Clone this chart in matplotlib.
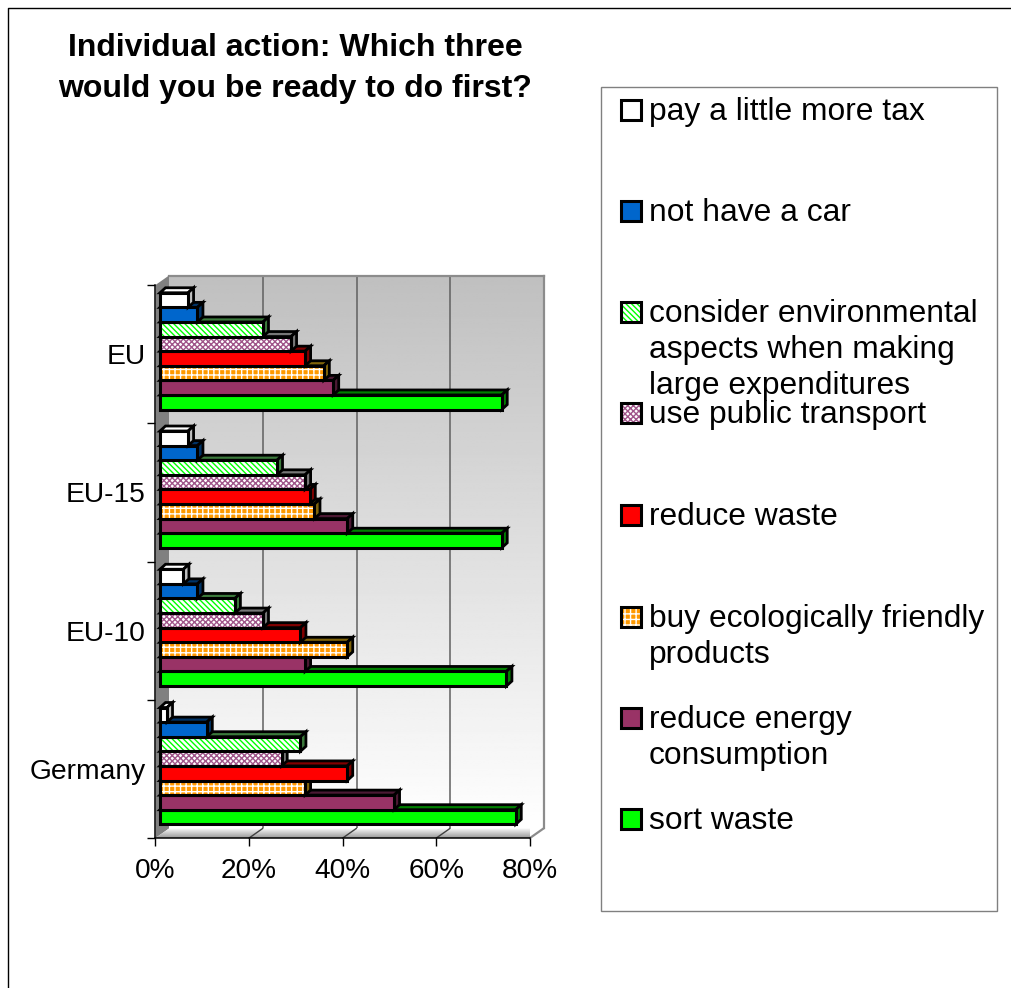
import numpy as np
import matplotlib
matplotlib.use("Agg")
import matplotlib.pyplot as plt
from matplotlib.lines import Line2D
from matplotlib.patches import Polygon, Rectangle

plt.rcParams["font.family"] = ["Liberation Sans", "DejaVu Sans"]
plt.rcParams["hatch.linewidth"] = 1.0

W, H = 1012, 988

# --- data (bottom to top of each group) ---
groups = ["Germany", "EU-10", "EU-15", "EU"]
series = ["sort waste", "reduce energy\nconsumption", "buy ecologically friendly\nproducts",
          "reduce waste", "use public transport",
          "consider environmental\naspects when making\nlarge expenditures",
          "not have a car", "pay a little more tax"]
sort_waste = [76, 74, 73, 73]
reduce_energy = [50, 31, 40, 37]
buy_eco = [31, 40, 33, 35]
reduce_waste = [40, 30, 32, 31]
public_transport = [26, 22, 31, 28]
consider_env = [30, 16, 25, 22]
no_car = [10, 8, 8, 8]
more_tax = [1.5, 5, 6, 6]
values = [sort_waste, reduce_energy, buy_eco, reduce_waste,
          public_transport, consider_env, no_car, more_tax]
ticks = [0, 20, 40, 60, 80]

# face, hatch colour, hatch, side shade, top shade
styles = [
    ("#00ff00", None, None, "#008000", "#008000"),
    ("#993366", None, None, "#4c1933", "#4c1933"),
    ("#ff9900", "#ffffff", "+++", "#80640a", "#80640a"),
    ("#ff0000", None, None, "#800000", "#800000"),
    ("#ffffff", "#a0558a", "xxxxxx", "#777777", "#777777"),
    ("#ffffff", "#00ff00", "\\\\\\\\\\\\", "#3c7a3c", "#3c7a3c"),
    ("#0066cc", None, None, "#003366", "#003366"),
    ("#ffffff", None, None, "#c0c0c0", "#ffffff"),
]


def fig_box(x0, y0, x1, y1):
    return [x0 / W, 1 - y1 / H, (x1 - x0) / W, (y1 - y0) / H]


fig = plt.figure(figsize=(W / 100, H / 100), dpi=100, facecolor="white")

# outer frame, only top and left are in the picture
fig.add_artist(Line2D([8 / W, 8 / W, 1], [0, 1 - 8 / H, 1 - 8 / H], color="black", lw=1))

# --- back wall ---
wall = fig.add_axes(fig_box(169, 276, 544, 828))
wall.imshow(np.linspace(0.75, 1, 256).reshape(-1, 1), cmap="gray", vmin=0, vmax=1,
            extent=[0, 80, 0, 4], aspect="auto")
wall.set_xticks(ticks[1:-1])
wall.grid(axis="x", color="#606060", lw=1.1)
wall.tick_params(length=0, labelbottom=False, labelleft=False)
wall.set_yticks([])
for side, sp in wall.spines.items():
    sp.set_color("#8c8c8c")
    sp.set_linewidth(1.6)
    sp.set_visible(side in ("top", "right"))

# --- front axes ---
ax = fig.add_axes(fig_box(155.5, 285, 530, 838))
ax.patch.set_alpha(0)
ax.set_xlim(0, 80)
ax.set_ylim(0, 4)

wall_dx, wall_dy = 13.5 * 80 / 374.5, 9.5 * 4 / 553
ax.add_patch(Polygon([(0, 0), (0, 4), (wall_dx, 4 + wall_dy), (wall_dx, wall_dy)],
                     fc="#808080", ec="none", clip_on=False, zorder=1))
floor = Polygon([(0, 0), (80, 0), (80 + wall_dx, wall_dy), (wall_dx, wall_dy)],
                fc="none", ec="none", clip_on=False, transform=ax.transData)
ax.add_patch(floor)
shade = ax.imshow(np.linspace(0.98, 0.6, 32).reshape(-1, 1), cmap="gray", vmin=0, vmax=1,
                  extent=[0, 80 + wall_dx, 0, wall_dy], aspect="auto", zorder=1, clip_on=True)
shade.set_clip_path(floor)
ax.set_xlim(0, 80)
ax.set_ylim(0, 4)
ax.plot([80, 80 + wall_dx], [0, wall_dy], color="#8c8c8c", lw=1.6, clip_on=False, zorder=1)
for t in ticks[1:-1]:
    ax.plot([t, t + wall_dx], [0, wall_dy], color="#404040", lw=1, clip_on=False, zorder=1)

# --- bars ---
bar_h = 0.1056
base = 0.099
shift = 0.96
dx, dy = 5.5 * 80 / 374.5, 5 * 4 / 553
z = 2
for g in range(len(groups)):
    for s, vals in enumerate(values):
        face, hcol, hatch, side_c, top_c = styles[s]
        y0 = g + base + s * bar_h
        y1 = y0 + bar_h
        xe = shift + vals[g]
        ax.add_patch(Polygon([(shift, y1), (shift + dx, y1 + dy), (xe + dx, y1 + dy), (xe, y1)],
                             fc=top_c, ec="black", lw=2, clip_on=False, zorder=z))
        ax.add_patch(Polygon([(xe, y0), (xe + dx, y0 + dy), (xe + dx, y1 + dy), (xe, y1)],
                             fc=side_c, ec="black", lw=2, clip_on=False, zorder=z))
        if hatch:
            ax.barh(y0, vals[g], bar_h, left=shift, align="edge", color=face, edgecolor=hcol,
                    hatch=hatch, lw=0, clip_on=False, zorder=z)
        else:
            ax.barh(y0, vals[g], bar_h, left=shift, align="edge", color=face, clip_on=False, zorder=z)
        ax.barh(y0, vals[g], bar_h, left=shift, align="edge", fill=False, edgecolor="black",
                lw=2.2, clip_on=False, zorder=z)
        z += 1

# --- axes decoration ---
ax.spines["top"].set_visible(False)
ax.spines["right"].set_visible(False)
ax.spines["left"].set_linewidth(1.1)
ax.spines["bottom"].set_linewidth(1.1)
ax.spines["left"].set_zorder(200)
ax.spines["bottom"].set_zorder(200)
ax.set_xticks(ticks)
ax.set_xticklabels([f"{t}%" for t in ticks], fontsize=20.2)
ax.set_yticks(range(5))
ax.set_yticklabels([])
ax.set_yticks(np.arange(4) + 0.5, labels=groups, minor=True, fontsize=20.3)
ax.tick_params(axis="y", which="minor", length=0, pad=7)
ax.tick_params(axis="y", which="major", length=5.5, width=1)
ax.tick_params(axis="x", length=5.5, width=1, pad=9)

# --- title ---
fig.text(295 / W, 1 - 48 / H, "Individual action: Which three", fontsize=23, fontweight="bold",
         ha="center", va="center")
fig.text(295 / W, 1 - 89 / H, "would you be ready to do first?", fontsize=23, fontweight="bold",
         ha="center", va="center")

# --- legend, entries are unevenly spaced in the original ---
fig.add_artist(Rectangle((601 / W, 1 - 911 / H), 396 / W, 824 / H, transform=fig.transFigure,
                         fc="white", ec="#808080", lw=1, zorder=-1))
first_line_y = [819, 718, 617, 515, 413, 312, 211, 110]
for s, label in enumerate(series):
    yc = first_line_y[s]
    face, hcol, hatch, _, _ = styles[s]
    box = (621 / W, 1 - (yc + 10) / H)
    size = (20 / W, 20 / H)
    if hatch:
        fig.add_artist(Rectangle(box, *size, transform=fig.transFigure, fc=face, ec=hcol, hatch=hatch, lw=0))
    else:
        fig.add_artist(Rectangle(box, *size, transform=fig.transFigure, fc=face, ec="none"))
    fig.add_artist(Rectangle(box, *size, transform=fig.transFigure, fill=False, ec="black", lw=2.2))
    for n, line in enumerate(label.split("\n")):
        fig.text(649 / W, 1 - (yc + 2 + n * 36) / H, line, fontsize=22.9, ha="left", va="center")

fig.savefig("out.png", dpi=100)
